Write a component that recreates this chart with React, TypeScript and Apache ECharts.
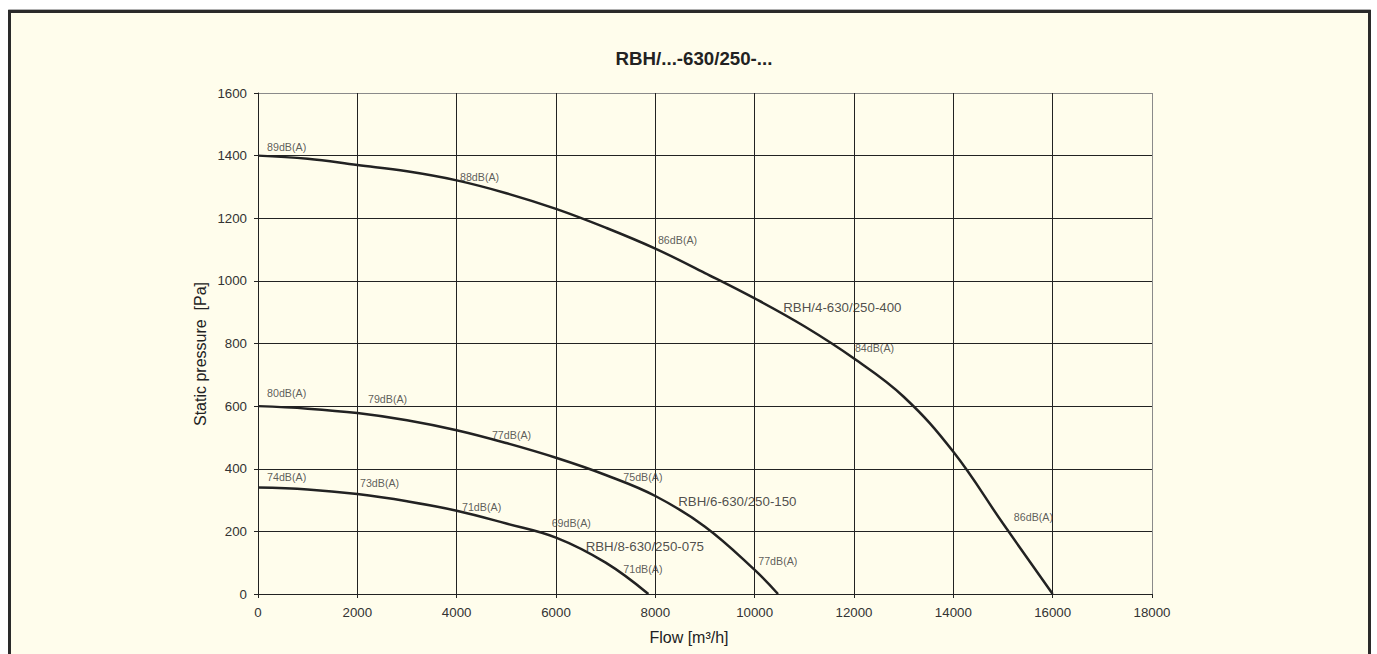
import React, { useEffect, useRef } from "react";
import * as echarts from "echarts";

// ---- data ----
const titleText = "RBH/...-630/250-...";
const xAxisTitle = "Flow [m³/h]";
const yAxisTitle = "Static pressure  [Pa]";

const xTicks = { min: 0, max: 18000, interval: 2000 };
const yTicks = { min: 0, max: 1600, interval: 200 };

// RBH/4-630/250-400
const flow4 = [0, 1000, 2000, 3000, 4000, 5000, 6000, 7000, 8000, 9000, 10000, 11000, 12000, 13000, 14000, 15000, 16000];
const pres4 = [1400, 1390, 1370, 1350, 1321, 1280, 1230, 1170, 1103, 1025, 944, 855, 752, 630, 454, 225, 0];

// RBH/6-630/250-150
const flow6 = [0, 1000, 2000, 3000, 4000, 5000, 6000, 7000, 8000, 9000, 10000, 10470];
const pres6 = [600, 592, 578, 555, 523, 482, 435, 380, 313, 215, 77, 0];

// RBH/8-630/250-075
const flow8 = [0, 1000, 2000, 3000, 4000, 5000, 6000, 7000, 7860];
const pres8 = [340, 334, 319, 296, 266, 225, 180, 100, 0];

// sound level annotations: [flow, pressure] of label anchor + text
const dbLabelX = [181, 4066, 8052, 12018, 15218, 181, 2214, 4710, 7354, 10071, 181, 2053, 4107, 5912, 7354];
const dbLabelY = [1427, 1331, 1130, 785, 246, 643, 622, 508, 373, 106, 373, 353, 277, 226, 81];
const dbLabelText = ["89dB(A)", "88dB(A)", "86dB(A)", "84dB(A)", "86dB(A)", "80dB(A)", "79dB(A)", "77dB(A)", "75dB(A)", "77dB(A)", "74dB(A)", "73dB(A)", "71dB(A)", "69dB(A)", "71dB(A)"];

const nameLabelX = [10575, 8461, 6597];
const nameLabelY = [915, 295, 153];
const nameLabelText = ["RBH/4-630/250-400", "RBH/6-630/250-150", "RBH/8-630/250-075"];

const FONT = "'Liberation Sans', Arial, sans-serif";
const INK = "#222222";

function pairs(xs: number[], ys: number[]) {
  return xs.map((x, i) => [x, ys[i]]);
}

export default function App() {
  const ref = useRef<HTMLDivElement>(null);

  useEffect(() => {
    if (!ref.current) return;
    const chart = echarts.init(ref.current, null, { renderer: "svg" });

    const curve = (name: string, xs: number[], ys: number[]) => ({
      name,
      type: "line",
      data: pairs(xs, ys),
      smooth: 0.4,
      showSymbol: false,
      symbol: "none",
      lineStyle: { color: INK, width: 2.5 },
      z: 5,
    });

    const ySplitColors = Array.from({ length: 9 }, (_, i) => (i === 8 ? "#8a8a8a" : INK));
    const xSplitColors = Array.from({ length: 10 }, (_, i) => (i === 9 ? "#8a8a8a" : INK));

    chart.setOption({
      animation: false,
      backgroundColor: "#ffffff",
      title: {
        text: titleText,
        left: 689,
        top: 44,
        textAlign: "center",
        textStyle: { fontFamily: FONT, fontSize: 18.7, fontWeight: "bold", color: INK },
      },
      grid: { left: 258, top: 93, width: 894, height: 501, containLabel: false },
      xAxis: {
        type: "value",
        min: xTicks.min,
        max: xTicks.max,
        interval: xTicks.interval,
        axisLine: { show: true, lineStyle: { color: INK, width: 1 } },
        axisTick: { show: true, length: 4, lineStyle: { color: INK } },
        axisLabel: {
          fontFamily: FONT,
          fontSize: 13.3,
          color: "#333",
          margin: 12,
          formatter: (v: number) => String(v),
        },
        splitLine: { show: true, lineStyle: { color: xSplitColors, width: 1 } },
      },
      yAxis: {
        type: "value",
        min: yTicks.min,
        max: yTicks.max,
        interval: yTicks.interval,
        axisLine: { show: true, lineStyle: { color: INK, width: 1 } },
        axisTick: { show: true, length: 4, lineStyle: { color: INK } },
        axisLabel: {
          fontFamily: FONT,
          fontSize: 13.3,
          color: "#333",
          margin: 11,
          formatter: (v: number) => String(v),
        },
        splitLine: { show: true, lineStyle: { color: ySplitColors, width: 1 } },
      },
      graphic: [
        {
          type: "rect",
          z: -101,
          silent: true,
          shape: { x: 8.5, y: 9.5, width: 1362, height: 680 },
          style: { fill: "none", stroke: "#b0b0b0", lineWidth: 1 },
        },
        {
          type: "rect",
          z: -100,
          silent: true,
          shape: { x: 9.5, y: 11.5, width: 1360, height: 680 },
          style: { fill: "#FFFDEC", stroke: "#2a2a2a", lineWidth: 3 },
        },
        {
          type: "text",
          x: 689,
          y: 637,
          silent: true,
          style: {
            text: xAxisTitle,
            align: "center",
            verticalAlign: "middle",
            fontFamily: FONT,
            fontSize: 16,
            fill: INK,
          },
        },
        {
          type: "text",
          x: 200,
          y: 354,
          rotation: Math.PI / 2,
          silent: true,
          style: {
            text: yAxisTitle,
            align: "center",
            verticalAlign: "middle",
            fontFamily: FONT,
            fontSize: 16,
            fill: INK,
          },
        },
      ],
      series: [
        curve(nameLabelText[0], flow4, pres4),
        curve(nameLabelText[1], flow6, pres6),
        curve(nameLabelText[2], flow8, pres8),
        {
          type: "scatter",
          symbolSize: 0,
          silent: true,
          z: 6,
          data: dbLabelX.map((x, i) => ({ value: [x, dbLabelY[i]], name: dbLabelText[i] })),
          label: {
            show: true,
            position: "right",
            distance: 0,
            formatter: "{b}",
            fontFamily: FONT,
            fontSize: 10.7,
            color: "#333",
          },
        },
        {
          type: "scatter",
          symbolSize: 0,
          silent: true,
          z: 6,
          data: nameLabelX.map((x, i) => ({ value: [x, nameLabelY[i]], name: nameLabelText[i] })),
          label: {
            show: true,
            position: "right",
            distance: 0,
            formatter: "{b}",
            fontFamily: FONT,
            fontSize: 13.3,
            color: INK,
          },
        },
      ],
    });

    return () => chart.dispose();
  }, []);

  return (
    <div
      ref={ref}
      style={{ position: "fixed", left: 0, top: 0, width: 1377, height: 654 }}
    />
  );
}
